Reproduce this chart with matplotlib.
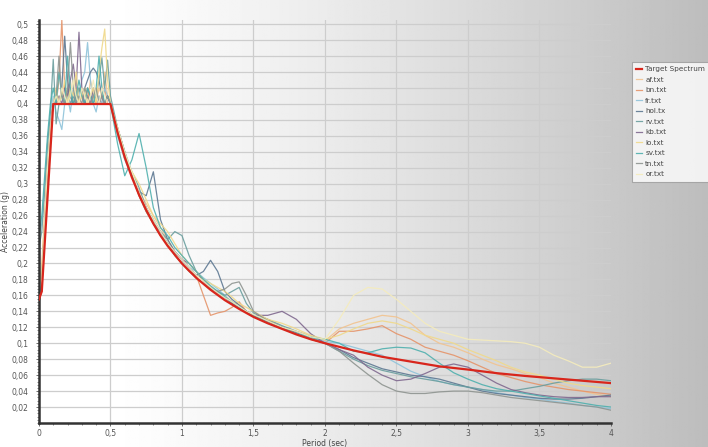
import numpy as np
import matplotlib
matplotlib.use("Agg")
import matplotlib.pyplot as plt
from matplotlib.ticker import MultipleLocator, FuncFormatter

# period grid shared by all records (sec)
periods = [0.0, 0.02, 0.04, 0.06, 0.08, 0.1, 0.12, 0.14, 0.16, 0.18, 0.2, 0.22, 0.24,
           0.26, 0.28, 0.3, 0.32, 0.34, 0.36, 0.38, 0.4, 0.42, 0.44, 0.46, 0.48, 0.5,
           0.55, 0.6, 0.65, 0.7, 0.75, 0.8, 0.85, 0.9, 0.95, 1.0, 1.05, 1.1, 1.15, 1.2,
           1.25, 1.3, 1.35, 1.4, 1.45, 1.5,
           1.6, 1.7, 1.8, 1.9, 2.0, 2.1, 2.2, 2.3, 2.4, 2.5, 2.6, 2.7, 2.8, 2.9, 3.0,
           3.1, 3.2, 3.3, 3.4, 3.5, 3.6, 3.7, 3.8, 3.9, 4.0]

target_periods = [0.0, 0.02, 0.1, 0.5, 0.55, 0.6, 0.65, 0.7, 0.75, 0.8, 0.85, 0.9, 0.95,
                  1.0, 1.1, 1.2, 1.3, 1.4, 1.5, 1.6, 1.7, 1.8, 1.9, 2.0, 2.2, 2.4, 2.6,
                  2.8, 3.0, 3.2, 3.4, 3.6, 3.8, 4.0]
target_acc = [0.155, 0.165, 0.4, 0.4, 0.364, 0.333, 0.308, 0.286, 0.267, 0.25, 0.235,
              0.222, 0.211, 0.2, 0.182, 0.167, 0.154, 0.143, 0.133, 0.125, 0.118, 0.111,
              0.105, 0.1, 0.091, 0.083, 0.077, 0.071, 0.067, 0.0625, 0.059, 0.056,
              0.053, 0.05]

af = [0.17, 0.2, 0.26, 0.32, 0.37, 0.4, 0.41, 0.4, 0.42, 0.4, 0.41, 0.43, 0.4,
      0.41, 0.4, 0.42, 0.41, 0.4, 0.43, 0.41, 0.4, 0.42, 0.41, 0.44, 0.41, 0.4,
      0.37, 0.34, 0.31, 0.29, 0.275, 0.26, 0.245, 0.23, 0.215, 0.205, 0.195, 0.185, 0.18, 0.17,
      0.165, 0.16, 0.152, 0.148, 0.14, 0.135,
      0.128, 0.12, 0.115, 0.11, 0.103, 0.118, 0.125, 0.13, 0.135, 0.133, 0.125, 0.11, 0.1, 0.095, 0.088,
      0.08, 0.073, 0.068, 0.062, 0.057, 0.05, 0.045, 0.04, 0.036, 0.033]
bn = [0.155, 0.165, 0.24, 0.31, 0.37, 0.4, 0.4, 0.43, 0.505, 0.42, 0.4, 0.41, 0.4,
      0.42, 0.4, 0.41, 0.4, 0.42, 0.4, 0.41, 0.4, 0.41, 0.4, 0.42, 0.4, 0.4,
      0.365, 0.335, 0.31, 0.285, 0.265, 0.25, 0.235, 0.225, 0.21, 0.2, 0.19, 0.185, 0.16, 0.135,
      0.138, 0.14, 0.145, 0.152, 0.14, 0.135,
      0.13, 0.12, 0.112, 0.105, 0.1, 0.115, 0.115, 0.118, 0.122, 0.112, 0.105, 0.095, 0.09, 0.085, 0.078,
      0.07, 0.062, 0.057, 0.052, 0.048, 0.045, 0.042, 0.04, 0.038, 0.036]
fr = [0.235, 0.25, 0.3, 0.35, 0.39, 0.41, 0.39, 0.38, 0.368, 0.4, 0.41, 0.39, 0.42,
      0.4, 0.41, 0.43, 0.44, 0.477, 0.43, 0.4, 0.39, 0.41, 0.4, 0.42, 0.41, 0.4,
      0.36, 0.33, 0.31, 0.29, 0.27, 0.255, 0.24, 0.225, 0.215, 0.205, 0.195, 0.19, 0.182, 0.175,
      0.168, 0.16, 0.15, 0.145, 0.14, 0.135,
      0.125, 0.118, 0.112, 0.108, 0.102, 0.1, 0.095, 0.09, 0.085, 0.075, 0.065, 0.058, 0.052, 0.048, 0.045,
      0.042, 0.038, 0.035, 0.032, 0.03, 0.027, 0.025, 0.022, 0.02, 0.018]
hol = [0.16, 0.18, 0.25, 0.32, 0.37, 0.4, 0.41, 0.4, 0.42, 0.485, 0.43, 0.41, 0.4,
       0.41, 0.42, 0.41, 0.42, 0.43, 0.44, 0.445, 0.44, 0.43, 0.41, 0.4, 0.41, 0.4,
       0.37, 0.34, 0.31, 0.29, 0.285, 0.315, 0.255, 0.23, 0.215, 0.205, 0.195, 0.185, 0.19, 0.204,
       0.19, 0.165, 0.155, 0.148, 0.14, 0.135,
       0.127, 0.12, 0.113, 0.106, 0.1, 0.092, 0.082, 0.075, 0.068, 0.064, 0.06, 0.058, 0.055, 0.05, 0.045,
       0.04, 0.037, 0.035, 0.033, 0.031, 0.03, 0.03, 0.031, 0.033, 0.035]
rv = [0.22, 0.24, 0.29, 0.35, 0.39, 0.456, 0.375, 0.4, 0.41, 0.4, 0.42, 0.4, 0.41,
      0.4, 0.42, 0.41, 0.4, 0.42, 0.41, 0.4, 0.41, 0.43, 0.458, 0.42, 0.455, 0.41,
      0.37, 0.34, 0.315, 0.295, 0.27, 0.255, 0.24, 0.23, 0.24, 0.235, 0.21, 0.19, 0.18, 0.17,
      0.165, 0.16, 0.165, 0.17, 0.15, 0.138,
      0.13, 0.122, 0.115, 0.108, 0.1, 0.09, 0.08, 0.072, 0.066, 0.062, 0.058, 0.055, 0.052, 0.048, 0.045,
      0.042, 0.04, 0.04, 0.043, 0.046, 0.05, 0.053, 0.055, 0.055, 0.053]
kb = [0.15, 0.17, 0.24, 0.31, 0.37, 0.4, 0.4, 0.41, 0.4, 0.42, 0.41, 0.43, 0.45,
      0.42, 0.49, 0.42, 0.4, 0.41, 0.4, 0.42, 0.41, 0.4, 0.41, 0.4, 0.41, 0.4,
      0.365, 0.335, 0.31, 0.29, 0.27, 0.25, 0.24, 0.225, 0.215, 0.205, 0.2, 0.19, 0.178, 0.17,
      0.163, 0.157, 0.15, 0.145, 0.14, 0.135,
      0.135, 0.14, 0.13, 0.112, 0.1, 0.092, 0.085, 0.07, 0.06, 0.053, 0.055, 0.062, 0.07, 0.074, 0.07,
      0.06, 0.05, 0.042, 0.038, 0.035, 0.033, 0.032, 0.032, 0.033, 0.033]
lo = [0.17, 0.19, 0.26, 0.32, 0.37, 0.4, 0.42, 0.4, 0.41, 0.43, 0.4, 0.42, 0.41,
      0.44, 0.4, 0.41, 0.42, 0.4, 0.41, 0.42, 0.4, 0.44, 0.47, 0.494, 0.43, 0.4,
      0.37, 0.335, 0.315, 0.3, 0.28, 0.26, 0.25, 0.24, 0.225, 0.21, 0.2, 0.19, 0.18, 0.175,
      0.17, 0.165, 0.158, 0.15, 0.145, 0.14,
      0.13, 0.125, 0.118, 0.11, 0.105, 0.11, 0.118, 0.125, 0.128, 0.125, 0.118, 0.11, 0.105, 0.1, 0.092,
      0.085, 0.078, 0.07, 0.064, 0.06, 0.055, 0.05, 0.047, 0.045, 0.043]
sv = [0.235, 0.26, 0.31, 0.36, 0.4, 0.42, 0.4, 0.44, 0.41, 0.4, 0.46, 0.42, 0.4,
      0.41, 0.43, 0.41, 0.4, 0.42, 0.41, 0.4, 0.42, 0.46, 0.42, 0.4, 0.41, 0.4,
      0.35, 0.31, 0.33, 0.363, 0.32, 0.27, 0.245, 0.235, 0.22, 0.21, 0.2, 0.19, 0.18, 0.172,
      0.165, 0.158, 0.152, 0.146, 0.14, 0.135,
      0.128, 0.12, 0.112, 0.108, 0.105, 0.1, 0.09, 0.088, 0.093, 0.095, 0.094, 0.088, 0.075, 0.063, 0.055,
      0.048, 0.043, 0.04, 0.037, 0.034, 0.031, 0.028, 0.025, 0.022, 0.02]
tn = [0.16, 0.18, 0.25, 0.31, 0.37, 0.4, 0.41, 0.46, 0.41, 0.4, 0.42, 0.477, 0.42,
      0.4, 0.41, 0.4, 0.42, 0.41, 0.4, 0.41, 0.42, 0.4, 0.41, 0.4, 0.41, 0.4,
      0.365, 0.335, 0.31, 0.285, 0.265, 0.25, 0.235, 0.225, 0.21, 0.2, 0.19, 0.182, 0.175, 0.168,
      0.165, 0.168, 0.175, 0.177, 0.16, 0.14,
      0.128, 0.12, 0.112, 0.105, 0.1, 0.09, 0.075, 0.061, 0.048, 0.04, 0.037, 0.037, 0.039, 0.04, 0.04,
      0.038, 0.035, 0.032, 0.03, 0.028, 0.026, 0.024, 0.022, 0.02, 0.016]
orr = [0.165, 0.18, 0.25, 0.32, 0.37, 0.4, 0.41, 0.4, 0.42, 0.41, 0.4, 0.41, 0.43,
       0.41, 0.4, 0.42, 0.41, 0.4, 0.41, 0.43, 0.41, 0.4, 0.42, 0.41, 0.4, 0.4,
       0.37, 0.34, 0.315, 0.29, 0.27, 0.255, 0.24, 0.225, 0.215, 0.205, 0.195, 0.185, 0.178, 0.17,
       0.163, 0.157, 0.152, 0.146, 0.14, 0.136,
       0.128, 0.12, 0.115, 0.108, 0.105, 0.13, 0.16, 0.17, 0.168, 0.155, 0.14, 0.125, 0.115, 0.11, 0.105,
       0.104, 0.103, 0.102, 0.1, 0.095, 0.085, 0.078, 0.07, 0.07, 0.075]

record_names = ["af.txt", "bn.txt", "fr.txt", "hol.tx", "rv.txt", "kb.txt",
                "lo.txt", "sv.txt", "tn.txt", "or.txt"]
record_values = [af, bn, fr, hol, rv, kb, lo, sv, tn, orr]
record_colors = ["#f2c38f", "#e5946a", "#8fc3da", "#5d7892", "#6a9e9e", "#80698f",
                 "#f0d98a", "#4fb0ae", "#8e9490", "#f5ecbc"]

fig = plt.figure(figsize=(7.08, 4.47), dpi=100)

# grey gradient background behind everything
bg = fig.add_axes([0, 0, 1, 1], zorder=-10)
xs = np.linspace(0, 1, 400)
shade = np.clip(1.0 - 0.26 * np.clip((xs - 0.15) / 0.85, 0, 1) ** 1.2, 0, 1)
bg.imshow(np.tile(shade, (10, 1)), cmap="gray", vmin=0, vmax=1, aspect="auto",
          extent=[0, 1, 0, 1])
bg.set_axis_off()

ax = fig.add_axes([0.055, 0.0537, 0.808, 0.901])
ax.set_facecolor("none")

for name, vals, col in zip(record_names, record_values, record_colors):
    ax.plot(periods, vals, color=col, lw=0.9, alpha=0.9, label=name)
ax.plot(target_periods, target_acc, color="#d8261c", lw=1.6, label="Target Spectrum", zorder=5)

ax.set_xlim(0, 4)
ax.set_ylim(0, 0.505)
ax.xaxis.set_major_locator(MultipleLocator(0.5))
ax.xaxis.set_minor_locator(MultipleLocator(0.1))
ax.set_yticks(np.arange(0.02, 0.501, 0.02))
ax.yaxis.set_minor_locator(MultipleLocator(0.004))

def comma(v, pos):
    s = ("%.2f" % v).rstrip("0").rstrip(".")
    return s.replace(".", ",")

ax.xaxis.set_major_formatter(FuncFormatter(comma))
ax.yaxis.set_major_formatter(FuncFormatter(comma))
ax.tick_params(labelsize=5.5, colors="#555555", length=2.5, width=0.6)
ax.tick_params(axis="y", pad=5)
ax.tick_params(axis="x", pad=1.5)
ax.tick_params(which="minor", length=1.5, width=0.5, colors="#555555")

ax.grid(True, which="major", color="#cdcdcd", lw=0.9)
ax.set_axisbelow(True)
for s in ["top", "right"]:
    ax.spines[s].set_visible(False)
for s in ["left", "bottom"]:
    ax.spines[s].set_linewidth(1.8)
    ax.spines[s].set_color("#333333")

ax.set_xlabel("Period (sec)", fontsize=5.5, color="#444444")
ax.xaxis.set_label_coords(0.5, -0.04)
ax.set_ylabel("Acceleration (g)", fontsize=5.5, color="#444444")
ax.yaxis.set_label_coords(-0.05, 0.5)

h, l = ax.get_legend_handles_labels()
order = [len(h) - 1] + list(range(len(h) - 1))
leg = ax.legend([h[i] for i in order], [l[i] for i in order],
                loc="upper left", bbox_to_anchor=(0.892, 0.862),
                bbox_transform=fig.transFigure, fontsize=5.2, frameon=True,
                fancybox=False, edgecolor="#999999", handlelength=0.8,
                handletextpad=0.5, labelspacing=0.62, borderpad=0.6,
                borderaxespad=0)
leg.get_frame().set_linewidth(0.8)
for t in leg.get_texts():
    t.set_color("#444444")

fig.savefig("out.png", dpi=100)
